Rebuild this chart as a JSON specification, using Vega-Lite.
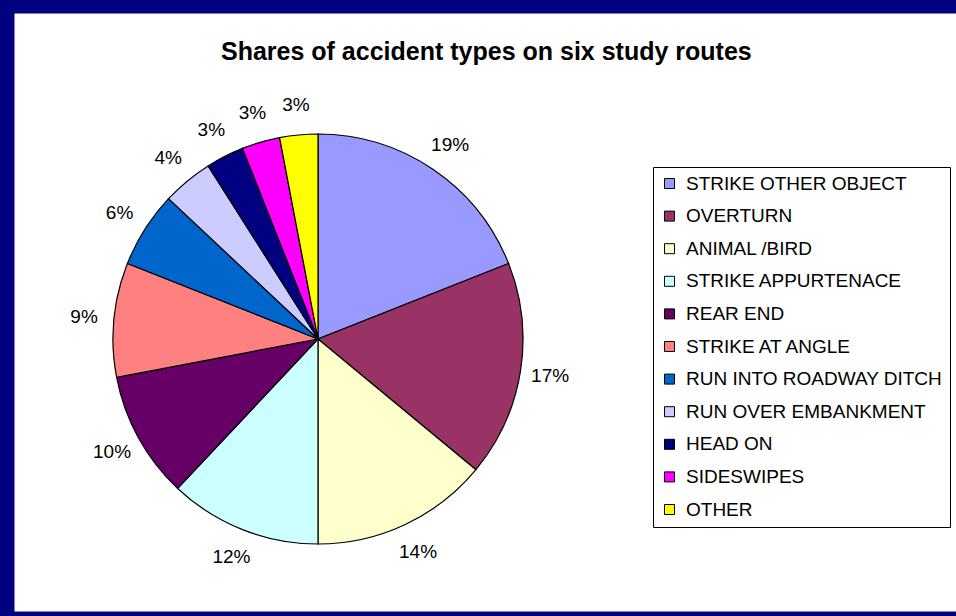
{
  "$schema": "https://vega.github.io/schema/vega-lite/v6.json",
  "width": 942,
  "height": 598,
  "autosize": {"type": "none"},
  "padding": {"left": 14, "top": 13, "right": 0, "bottom": 5},
  "background": "#000080",
  "view": {"fill": "#ffffff", "stroke": "transparent"},
  "title": {
    "text": "Shares of accident types on six study routes",
    "font": "Liberation Sans",
    "fontSize": 25,
    "fontWeight": "bold",
    "color": "#000000",
    "anchor": "start",
    "frame": "group",
    "dx": 207,
    "offset": -52
  },
  "config": {
    "font": "Liberation Sans"
  },
  "data": {
    "values": [
      {"type": "STRIKE OTHER OBJECT", "share": 0.19, "idx": 1},
      {"type": "OVERTURN", "share": 0.17, "idx": 2},
      {"type": "ANIMAL /BIRD", "share": 0.14, "idx": 3},
      {"type": "STRIKE APPURTENACE", "share": 0.12, "idx": 4},
      {"type": "REAR END", "share": 0.10, "idx": 5},
      {"type": "STRIKE AT ANGLE", "share": 0.09, "idx": 6},
      {"type": "RUN INTO ROADWAY DITCH", "share": 0.06, "idx": 7},
      {"type": "RUN OVER EMBANKMENT", "share": 0.04, "idx": 8},
      {"type": "HEAD ON", "share": 0.03, "idx": 9},
      {"type": "SIDESWIPES", "share": 0.03, "idx": 10},
      {"type": "OTHER", "share": 0.03, "idx": 11}
    ]
  },
  "encoding": {
    "theta": {"field": "share", "type": "quantitative", "stack": true},
    "order": {"field": "idx", "type": "quantitative"}
  },
  "layer": [
    {
      "mark": {"type": "arc", "radius": 205, "x": 304, "y": 326, "stroke": "#000000", "strokeWidth": 1.2},
      "encoding": {
        "color": {
          "field": "type",
          "type": "nominal",
          "sort": null,
          "scale": {
            "domain": ["STRIKE OTHER OBJECT", "OVERTURN", "ANIMAL /BIRD", "STRIKE APPURTENACE", "REAR END", "STRIKE AT ANGLE", "RUN INTO ROADWAY DITCH", "RUN OVER EMBANKMENT", "HEAD ON", "SIDESWIPES", "OTHER"],
            "range": ["#9999FF", "#993366", "#FFFFCC", "#CCFFFF", "#660066", "#FF8080", "#0066CC", "#CCCCFF", "#000080", "#FF00FF", "#FFFF00"]
          },
          "legend": {
            "title": null,
            "orient": "none",
            "legendX": 639,
            "legendY": 154,
            "symbolType": "square",
            "symbolSize": 100,
            "symbolStrokeColor": "#000000",
            "symbolStrokeWidth": 1,
            "labelFont": "Liberation Sans",
            "labelFontSize": 19,
            "labelColor": "#000000",
            "labelLimit": 400,
            "labelOffset": 7,
            "rowPadding": 12.6,
            "padding": 7,
            "fillColor": "#ffffff",
            "strokeColor": "#000000",
            "cornerRadius": 0
          }
        }
      }
    },
    {
      "mark": {"type": "text", "radius": 235, "x": 304, "y": 326, "font": "Liberation Sans", "fontSize": 19, "color": "#000000"},
      "encoding": {
        "text": {"field": "share", "type": "quantitative", "format": ".0%"}
      }
    }
  ]
}
